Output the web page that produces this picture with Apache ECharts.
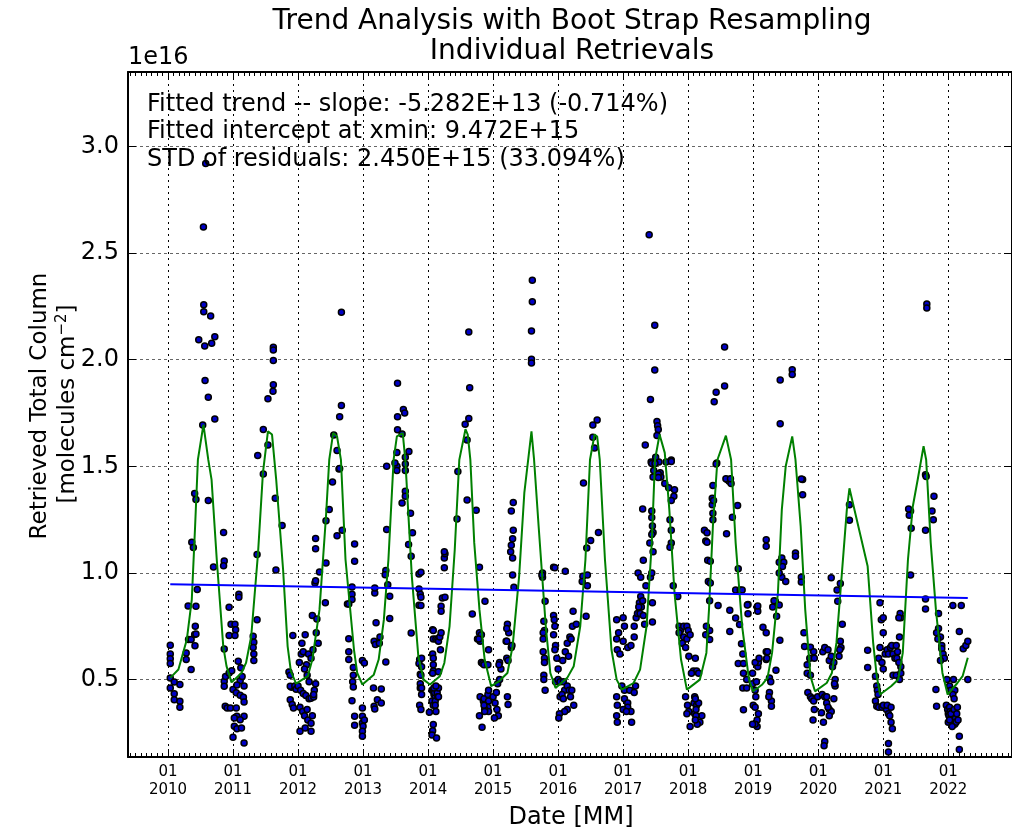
<!DOCTYPE html>
<html>
<head>
<meta charset="utf-8">
<title>Trend Analysis with Boot Strap Resampling</title>
<script src="https://cdn.jsdelivr.net/npm/echarts@6/dist/echarts.min.js"></script>
<style>
  html, body { margin: 0; padding: 0; background: #fff; }
  #chart { width: 1012px; height: 832px; }
</style>
</head>
<body>
<div id="chart"></div>
<script>
// Individual retrievals: [decimal year, total column in units of 1e16 molecules cm^-2]
const retr2010 = [[2010.035,0.661],[2010.035,0.62],[2010.035,0.598],[2010.035,0.576],[2010.035,0.508],[2010.035,0.461],
  [2010.096,0.489],[2010.096,0.433],[2010.096,0.405],[2010.183,0.477],[2010.183,0.398],[2010.183,0.37],
  [2010.28,0.625],[2010.28,0.594],[2010.356,0.547],[2010.316,0.688],[2010.356,0.688],
  [2010.41,0.711],[2010.43,0.714],[2010.415,0.659],[2010.42,0.75],[2010.31,0.845],[2010.43,0.844],[2010.45,0.922],
  [2010.366,1.144],[2010.39,1.119],[2010.41,1.373],[2010.43,1.345],[2010.62,1.34],[2010.855,1.19],[2010.70,1.028],
  [2010.865,1.056],[2010.855,1.034],[2010.94,0.839],[2010.865,0.644],[2010.97,0.759],[2010.94,0.707],[2010.865,0.492],
  [2010.865,0.469],[2010.885,0.515],[2010.94,0.531],[2010.98,0.542],[2010.88,0.375],[2010.91,0.367],[2010.96,0.367],
  [2010.545,2.622],[2010.55,2.258],[2010.55,2.225],[2010.656,2.205],[2010.473,2.093],[2010.565,2.064],[2010.672,2.077],
  [2010.72,2.108],[2010.57,1.902],[2010.62,1.824],[2010.72,1.722],[2010.534,1.694],[2010.58,2.92]];
const retr2011 = [[2011.03,0.759],[2011.04,0.734],[2011.03,0.707],[2011.09,0.90],[2011.09,0.886],
  [2011.0,0.453],[2011.05,0.438],[2011.11,0.426],[2011.16,0.417],[2011.17,0.395],
  [2011.05,0.367],[2011.06,0.328],[2011.17,0.328],[2011.11,0.312],[2011.02,0.32],
  [2011.02,0.281],[2011.06,0.269],[2011.13,0.273],[2011.0,0.23],[2011.17,0.203],
  [2011.12,0.555],[2011.08,0.586],[2011.11,0.495],[2011.14,0.515],[2011.06,0.475],[2011.17,0.47],
  [2011.31,0.703],[2011.32,0.675],[2011.32,0.62],[2011.32,0.589],[2011.31,0.651],[2011.37,0.78],[2011.37,1.086],
  [2011.66,1.014],[2011.65,1.35],[2011.755,1.222],
  [2011.62,2.058],[2011.62,2.046],[2011.62,1.996],[2011.62,1.883],[2011.615,1.852],[2011.537,1.817],[2011.466,1.673],
  [2011.537,1.60],[2011.38,1.551],[2011.466,1.464],
  [2011.86,0.536],[2011.88,0.52],[2011.9,0.464],[2011.88,0.469],[2011.92,0.707],[2011.88,0.406],[2011.91,0.383],
  [2011.93,0.367],[2011.95,0.47],[2011.97,0.455]];
const retr2012 = [[2012.0,0.47],[2012.04,0.45],[2012.08,0.435],[2012.12,0.425],[2012.17,0.41],[2012.2,0.412],[2012.24,0.418],
  [2012.03,0.37],[2012.07,0.35],[2012.1,0.33],[2012.15,0.31],[2012.2,0.295],[2012.22,0.33],[2012.14,0.36],
  [2012.03,0.258],[2012.11,0.273],[2012.2,0.258],
  [2012.02,0.58],[2012.05,0.62],[2012.08,0.63],[2012.06,0.67],[2012.11,0.71],[2012.13,0.57],[2012.16,0.62],[2012.2,0.6],
  [2012.1,0.55],[2012.14,0.52],[2012.17,0.49],[2012.27,0.48],[2012.25,0.45],[2012.24,0.43],
  [2012.23,0.64],[2012.31,0.67],[2012.28,0.72],[2012.22,0.8],
  [2012.27,1.114],[2012.27,1.162],[2012.29,0.784],[2012.26,0.953],[2012.27,0.963],[2012.42,0.86],[2012.33,1.005],
  [2012.43,1.047],[2012.43,1.245],[2012.48,1.297],[2012.53,1.427],[2012.6,1.175],[2012.68,1.20],[2012.63,1.487],
  [2012.87,1.136],[2012.87,1.055],[2012.83,0.934],[2012.83,0.90],[2012.83,0.875],[2012.76,0.855],[2012.78,0.855],
  [2012.78,0.692],[2012.78,0.63],[2012.78,0.594],[2012.85,0.557],[2012.85,0.52],[2012.84,0.49],[2012.85,0.465],
  [2012.83,0.401],[2012.87,0.328],[2012.87,0.286],
  [2012.667,2.222],[2012.667,1.785],[2012.64,1.733],[2012.55,1.647],[2012.6,1.574],[2012.64,1.49]];
const retr2013 = [[2012.99,0.589],[2013.02,0.578],[2012.99,0.367],[2012.99,0.328],[2012.99,0.297],[2013.0,0.281],
  [2012.99,0.258],[2012.99,0.234],[2013.02,0.31],
  [2013.16,0.461],[2013.17,0.375],[2013.18,0.362],[2013.22,0.406],[2013.28,0.39],[2013.28,0.456],
  [2013.17,0.68],[2013.19,0.665],[2013.25,0.67],[2013.26,0.70],[2013.2,0.766],[2013.18,0.906],[2013.18,0.93],
  [2013.35,0.583],[2013.35,1.011],[2013.34,0.992],[2013.41,0.891],[2013.41,0.787],[2013.363,1.204],[2013.38,0.945],
  [2013.6,1.328],[2013.65,1.383],[2013.65,1.36],[2013.73,1.28],[2013.7,1.133],[2013.74,1.078],[2013.74,0.719],
  [2013.76,1.188],[2013.52,1.50],[2013.49,1.515],
  [2013.86,0.995],[2013.86,0.925],[2013.88,0.90],[2013.86,0.848],
  [2013.87,0.594],[2013.86,0.575],[2013.88,0.525],[2013.88,0.48],[2013.88,0.46],[2013.87,0.38],
  [2013.53,1.889],[2013.62,1.766],[2013.64,1.75],[2013.53,1.733],[2013.53,1.672],[2013.6,1.652],[2013.705,1.569],
  [2013.52,1.565],[2013.65,1.542],[2013.65,1.511],[2013.363,1.5],[2013.65,1.48],[2013.52,1.48]];
const retr2014 = [[2013.89,1.003],[2013.89,0.886],[2013.89,0.847],[2013.9,0.6],[2013.9,0.56],[2013.89,0.52],
  [2013.9,0.46],[2013.9,0.43],[2013.89,0.36],
  [2014.07,0.734],[2014.08,0.73],[2014.08,0.69],[2014.07,0.62],[2014.08,0.6],[2014.08,0.57],[2014.08,0.54],[2014.07,0.53],
  [2014.06,0.45],[2014.08,0.45],[2014.06,0.4],[2014.09,0.43],[2014.08,0.38],[2014.11,0.42],[2014.11,0.4],[2014.11,0.38],
  [2014.12,0.35],[2014.1,0.44],[2014.13,0.46],[2014.14,0.44],[2014.15,0.42],[2014.16,0.46],[2014.16,0.42],[2014.09,0.46],
  [2014.12,0.47],[2014.08,0.289],[2014.07,0.26],[2014.06,0.24],[2014.13,0.226],[2014.02,0.347],
  [2014.12,0.69],[2014.15,0.69],[2014.16,0.68],[2014.18,0.70],[2014.2,0.72],[2014.19,0.64],[2014.16,0.537],
  [2014.2,0.844],[2014.2,0.82],[2014.22,0.883],[2014.26,0.886],[2014.25,1.024],[2014.25,1.07],[2014.26,1.09],[2014.25,1.10],
  [2014.445,1.253],[2014.458,1.476],[2014.6,1.342],[2014.68,0.808],[2014.74,1.294],[2014.79,1.027],[2014.875,0.867],
  [2014.79,0.72],[2014.8,0.68],[2014.76,0.69],[2014.82,0.71],[2014.78,0.69],
  [2014.82,0.58],[2014.84,0.575],[2014.86,0.57],[2014.93,0.64],[2014.92,0.57],
  [2014.626,2.13],[2014.64,1.869],[2014.626,1.724],[2014.57,1.697],[2014.6,1.624],
  [2014.8,0.42],[2014.85,0.40],[2014.86,0.41],[2014.92,0.43],[2014.93,0.45],[2014.93,0.40],[2014.92,0.37],[2014.93,0.35],
  [2014.87,0.36],[2014.86,0.38],[2014.87,0.35],[2014.79,0.33],[2014.83,0.276]];
const retr2015 = [[2015.0,0.42],[2015.03,0.39],[2015.05,0.44],[2015.06,0.36],[2015.08,0.33],[2015.02,0.32],[2015.07,0.48],
  [2015.1,0.5],[2015.12,0.55],[2015.1,0.58],[2015.09,0.57],
  [2015.2,0.68],[2015.21,0.68],[2015.24,0.72],[2015.22,0.76],[2015.21,0.74],[2015.21,0.6],[2015.23,0.59],[2015.22,0.42],
  [2015.23,0.383],[2015.28,0.65],[2015.29,0.66],
  [2015.27,1.1],[2015.28,1.13],[2015.3,1.16],[2015.3,1.07],[2015.3,0.99],[2015.31,1.2],[2015.31,1.33],[2015.28,1.29],[2015.32,0.933],
  [2015.76,1.0],[2015.76,0.98],[2015.75,0.99],[2015.8,0.867],[2015.78,0.773],[2015.79,0.73],
  [2015.77,0.72],[2015.77,0.69],[2015.77,0.63],[2015.78,0.52],[2015.78,0.5],[2015.79,0.6],[2015.8,0.45],[2015.79,0.58],
  [2015.93,1.027],[2015.95,1.024],[2015.93,0.8],[2015.94,0.78],[2015.95,0.75],[2015.93,0.71],
  [2015.603,2.372],[2015.603,2.272],[2015.59,2.135],[2015.59,2.002],[2015.59,1.985]];
const retr2016 = [[2016.11,1.008],[2015.96,0.66],[2015.95,0.64],[2015.98,0.6],[2016.0,0.55],[2016.07,0.59],[2016.11,0.63],
  [2016.16,0.61],[2016.18,0.70],[2016.14,0.67],[2016.2,0.69],[2016.22,0.75],[2016.23,0.82],[2016.28,0.76],
  [2015.96,0.49],[2016.0,0.5],[2016.03,0.49],[2016.08,0.49],[2016.1,0.45],[2016.14,0.47],[2016.17,0.45],[2016.19,0.42],
  [2016.21,0.45],[2016.24,0.38],[2016.14,0.36],[2016.1,0.35],[2016.02,0.34],[2016.01,0.32],[2016.03,0.42],[2016.06,0.43],
  [2016.08,0.41],
  [2016.39,1.422],[2016.44,1.117],[2016.5,1.152],[2016.62,1.19],[2016.38,0.985],[2016.45,0.99],[2016.37,0.96],[2016.45,0.94],
  [2016.43,0.797],[2016.6,1.717],[2016.534,1.694],[2016.534,1.636],[2016.56,1.586]];
const retr2017 = [[2016.9,0.78],[2016.93,0.72],[2016.9,0.69],[2016.91,0.64],[2016.95,0.62],[2017.0,0.79],[2017.02,0.75],
  [2017.0,0.68],[2017.07,0.65],[2017.12,0.66],[2017.17,0.7],[2017.17,0.75],[2017.2,0.79],[2017.22,0.81],[2017.25,0.86],
  [2017.27,0.89],[2017.28,0.84],
  [2016.9,0.42],[2016.91,0.38],[2016.9,0.33],[2016.91,0.3],[2016.98,0.47],[2017.02,0.45],[2017.02,0.41],[2017.07,0.39],
  [2017.07,0.37],[2017.12,0.35],[2017.13,0.3],[2017.1,0.45],[2017.17,0.44],[2017.19,0.47],[2017.0,0.36],[2017.05,0.35],
  [2017.23,1.0],[2017.27,0.98],[2017.31,1.06],[2017.35,0.94],[2017.42,0.98],[2017.44,1.0],
  [2017.24,0.84],[2017.3,0.87],[2017.26,0.81],[2017.31,0.80],[2017.33,0.76],[2017.45,0.86],[2017.45,0.77],
  [2017.3,1.3],[2017.44,1.29],[2017.44,1.26],[2017.45,1.22],[2017.46,1.19],[2017.44,1.18],[2017.41,1.14],[2017.46,1.1],
  [2017.46,1.45],[2017.47,1.48],[2017.49,1.52],[2017.43,1.52],
  [2017.57,1.47],[2017.58,1.45],[2017.64,1.42],[2017.7,1.40],[2017.79,1.39],[2017.78,1.36],[2017.74,1.34],[2017.72,1.25],
  [2017.74,1.2],[2017.74,1.14],[2017.72,1.12],[2017.77,0.94],[2017.84,0.89],[2017.74,1.53],[2017.66,1.52],[2017.55,1.52],
  [2017.4,2.586],[2017.486,2.161],[2017.486,1.952],[2017.42,1.813],[2017.52,1.71],[2017.53,1.69],[2017.54,1.673],
  [2017.52,1.645],[2017.34,1.60],[2017.74,1.523],[2017.5,1.542],[2017.44,1.513],[2017.49,1.513],[2017.54,1.464],[2017.54,1.448]];
const retr2018 = [[2017.86,0.75],[2017.88,0.73],[2017.93,0.75],[2017.98,0.75],[2018.0,0.73],[2017.93,0.70],[2017.98,0.69],
  [2018.03,0.71],[2017.86,0.72],[2017.91,0.67],[2017.96,0.65],[2018.01,0.61],[2018.11,0.6],[2018.08,0.54],[2018.13,0.54],
  [2018.05,0.53],[2018.16,0.53],
  [2017.96,0.42],[2017.99,0.38],[2018.01,0.35],[2018.09,0.39],[2018.13,0.38],[2018.16,0.39],[2018.1,0.34],[2018.21,0.33],
  [2018.18,0.30],[2018.14,0.29],[2018.03,0.28],[2017.98,0.34],
  [2018.25,1.2],[2018.27,1.15],[2018.3,1.06],[2018.31,0.96],[2018.37,1.35],[2018.37,1.32],[2018.38,1.41],[2018.33,0.87],
  [2018.28,0.75],[2018.27,0.71],
  [2018.44,1.515],[2018.6,1.438],[2018.63,1.43],[2018.66,1.42],[2018.39,1.34],[2018.38,1.28],[2018.38,1.25],[2018.29,1.188],
  [2018.29,1.144],[2018.34,1.055],[2018.34,0.953],[2018.46,0.847],[2018.33,0.73],[2018.33,0.688],
  [2018.1,0.42],[2018.11,0.41],[2018.12,0.36],[2018.12,0.33],[2018.11,0.31],
  [2018.59,1.184],[2018.68,1.261],[2018.76,1.316],[2018.77,1.02],[2018.64,0.825],[2018.73,0.789],[2018.64,0.725],
  [2018.73,0.92],[2018.8,0.92],[2018.83,0.92],[2018.79,0.758],[2018.92,0.852],[2018.92,0.809],[2018.82,0.668],[2018.84,0.62],
  [2018.77,0.575],[2018.85,0.575],[2018.85,0.53],[2018.84,0.46],[2018.9,0.5],[2018.9,0.46],[2018.85,0.359],
  [2018.40,1.803],[2018.43,1.847],[2018.43,1.511],[2018.56,2.059],[2018.56,1.877],[2018.58,1.442],[2018.65,1.442]];
const retr2019 = [[2018.99,0.53],[2018.99,0.48],[2019.03,0.45],[2019.04,0.42],[2019.0,0.38],[2019.03,0.37],[2019.08,0.34],
  [2019.06,0.31],[2019.06,0.28],[2019.03,0.29],[2018.99,0.29],[2019.07,0.56],[2019.08,0.58],[2019.03,0.58],[2019.09,0.6],
  [2019.05,0.49],[2019.06,0.84],[2019.07,0.82],[2019.07,0.845],[2018.91,0.85],
  [2019.15,0.745],[2019.2,0.72],[2019.2,0.63],[2019.2,0.594],[2019.22,0.63],[2019.21,0.60],
  [2019.25,0.508],[2019.27,0.49],[2019.25,0.44],[2019.28,0.40],[2019.28,0.375],[2019.24,0.42],
  [2019.2,1.156],[2019.2,1.125],
  [2019.3,0.84],[2019.34,0.867],[2019.4,0.85],[2019.36,0.797],[2019.32,0.87],[2019.35,0.544],[2019.41,0.684],
  [2019.4,1.05],[2019.44,1.07],[2019.47,1.05],[2019.45,1.03],[2019.44,0.98],[2019.5,0.96],[2019.4,1.0],
  [2019.65,1.094],[2019.65,1.078],[2019.76,1.438],[2019.76,1.367],[2019.74,0.98],[2019.74,0.957],
  [2019.78,0.72],[2019.79,0.655],[2019.88,0.652],[2019.93,0.63],[2019.87,0.6],[2019.94,0.6],[2019.83,0.57],[2019.83,0.53],
  [2019.88,0.52],[2019.84,0.44],[2019.88,0.42],[2019.9,0.41],[2019.93,0.40],[2019.94,0.36],[2019.92,0.31],[2019.99,0.42],
  [2019.6,1.953],[2019.6,1.931],[2019.415,1.905],[2019.415,1.70],[2019.74,1.44]];
const retr2020 = [[2020.06,0.43],[2020.1,0.42],[2020.05,0.345],[2020.08,0.30],[2020.1,0.21],[2020.09,0.19],
  [2020.07,0.63],[2020.1,0.65],[2020.15,0.64],[2020.17,0.59],[2020.2,0.61],[2020.22,0.56],[2020.24,0.58],[2020.26,0.5],
  [2020.26,0.47],[2020.24,0.41],[2020.17,0.36],[2020.2,0.35],[2020.17,0.33],[2020.13,0.39],[2020.13,0.42],[2020.15,0.37],
  [2020.25,0.48],
  [2020.2,0.977],[2020.29,0.92],[2020.3,0.867],[2020.34,0.95],[2020.37,0.76],[2020.34,0.68],[2020.35,0.65],[2020.33,0.64],
  [2020.32,0.61],[2020.48,1.32],[2020.48,1.247],[2020.76,0.637],[2020.76,0.557],
  [2020.88,0.516],[2020.9,0.47],[2020.91,0.45],[2020.92,0.43],[2020.88,0.4],[2020.9,0.375],[2020.93,0.37]];
const retr2021 = [[2020.95,0.86],[2020.97,0.78],[2021.0,0.79],[2021.0,0.72],[2020.95,0.65],[2020.93,0.6],[2020.98,0.58],
  [2021.0,0.55],[2021.03,0.62],[2021.06,0.64],[2021.08,0.62],[2021.11,0.65],[2021.13,0.66],[2021.15,0.62],[2021.18,0.6],
  [2021.2,0.66],[2021.22,0.63],[2021.25,0.7],[2021.27,0.79],[2021.26,0.81],[2021.24,0.79],
  [2020.98,0.37],[2021.05,0.36],[2021.08,0.34],[2021.1,0.33],[2021.12,0.3],[2021.14,0.27],[2021.08,0.20],[2021.0,0.38],
  [2021.06,0.38],[2021.12,0.37],[2021.08,0.16],
  [2021.15,0.52],[2021.2,0.52],[2021.25,0.50],[2021.27,0.53],[2021.27,0.56],[2021.21,0.6],[2021.24,0.58],
  [2021.42,1.29],[2021.4,1.27],[2021.39,1.30],[2021.43,1.21],[2021.42,0.99],
  [2021.65,1.2],[2021.65,0.878],[2021.65,0.831],[2021.75,1.29],[2021.77,1.25],[2021.78,1.36],
  [2021.85,0.81],[2021.85,0.74],[2021.82,0.72],[2021.88,0.7],[2021.9,0.66],[2021.9,0.645],[2021.92,0.62],[2021.94,0.6],
  [2021.88,0.59],[2021.84,0.69],[2021.81,0.453],[2021.82,0.375],
  [2021.67,2.261],[2021.67,2.242],[2021.65,1.461],[2021.66,1.452]];
const retr2022 = [[2021.98,0.5],[2022.02,0.47],[2022.04,0.45],[2022.08,0.5],[2022.1,0.45],[2022.07,0.43],[2022.09,0.41],
  [2021.97,0.38],[2021.99,0.36],[2022.0,0.34],[2022.01,0.33],[2022.02,0.37],[2022.03,0.35],[2022.04,0.32],[2022.05,0.3],
  [2022.06,0.33],[2022.07,0.35],[2022.08,0.31],[2022.1,0.29],[2022.11,0.32],[2022.12,0.3],[2022.0,0.3],[2022.02,0.31],
  [2022.04,0.34],[2022.06,0.28],[2022.09,0.36],[2022.13,0.34],[2022.15,0.31],[2022.14,0.37],
  [2022.17,0.234],[2022.17,0.172],[2022.07,0.847],[2022.2,0.847],[2022.17,0.725],
  [2022.23,0.645],[2022.27,0.66],[2022.3,0.68],[2022.3,0.5]];

// Fitted seasonal model evaluated at the retrieval times
const fitCurve = [[2010.035,0.508],[2010.16,0.547],[2010.29,0.688],[2010.366,0.875],[2010.417,1.219],[2010.46,1.531],
  [2010.545,1.695],[2010.62,1.53],[2010.67,1.438],[2010.75,1.063],[2010.85,0.656],[2010.9,0.563],[2010.977,0.487],
  [2011.13,0.531],[2011.2,0.578],[2011.28,0.703],[2011.385,1.094],[2011.46,1.469],[2011.537,1.664],[2011.6,1.649],
  [2011.664,1.438],[2011.77,1.016],[2011.84,0.656],[2011.89,0.539],[2011.97,0.481],
  [2012.15,0.516],[2012.22,0.594],[2012.33,0.828],[2012.43,1.266],[2012.48,1.531],[2012.54,1.656],[2012.6,1.64],
  [2012.66,1.53],[2012.73,1.063],[2012.86,0.641],[2012.91,0.531],[2012.99,0.477],
  [2013.165,0.523],[2013.24,0.594],[2013.32,0.781],[2013.39,1.063],[2013.47,1.531],[2013.52,1.64],[2013.61,1.656],
  [2013.65,1.53],[2013.75,0.984],[2013.85,0.609],[2013.93,0.5],
  [2014.03,0.477],[2014.18,0.516],[2014.25,0.578],[2014.33,0.75],[2014.41,1.109],[2014.48,1.53],[2014.575,1.674],
  [2014.61,1.649],[2014.65,1.531],[2014.71,1.141],[2014.79,0.828],[2014.87,0.594],[2014.97,0.469],
  [2015.09,0.492],[2015.22,0.531],[2015.3,0.656],[2015.4,0.984],[2015.48,1.375],[2015.59,1.664],[2015.63,1.531],
  [2015.7,1.219],[2015.81,0.75],[2015.88,0.531],[2015.96,0.461],
  [2016.14,0.508],[2016.24,0.563],[2016.34,0.75],[2016.42,1.063],[2016.49,1.531],[2016.56,1.649],[2016.6,1.64],
  [2016.64,1.531],[2016.72,1.063],[2016.82,0.641],[2016.9,0.5],[2016.98,0.453],
  [2017.16,0.484],[2017.26,0.547],[2017.36,0.75],[2017.44,1.141],[2017.49,1.531],[2017.56,1.649],[2017.64,1.563],
  [2017.71,1.297],[2017.79,0.906],[2017.89,0.594],[2017.98,0.453],
  [2018.18,0.5],[2018.28,0.625],[2018.32,0.828],[2018.38,1.219],[2018.45,1.531],[2018.58,1.644],[2018.66,1.531],
  [2018.73,1.141],[2018.83,0.75],[2018.935,0.5],[2019.0,0.445],
  [2019.14,0.477],[2019.22,0.508],[2019.29,0.625],[2019.38,0.906],[2019.44,1.297],[2019.5,1.5],[2019.6,1.64],
  [2019.65,1.531],[2019.73,1.219],[2019.8,0.828],[2019.88,0.516],[2019.95,0.445],
  [2020.13,0.484],[2020.21,0.531],[2020.28,0.672],[2020.36,0.984],[2020.44,1.297],[2020.48,1.397],[2020.76,1.031],
  [2020.845,0.672],[2020.9,0.516],[2020.95,0.43],
  [2021.12,0.469],[2021.23,0.5],[2021.3,0.625],[2021.38,1.063],[2021.455,1.313],[2021.53,1.438],[2021.62,1.594],
  [2021.66,1.531],[2021.73,1.141],[2021.81,0.828],[2021.91,0.531],[2021.99,0.43],
  [2022.14,0.484],[2022.22,0.516],[2022.3,0.602]];

// Linear trend: intercept at the first retrieval and slope per year (1e16 units)
const trendStart = 2010.035;
const trendEnd = 2022.3;
const trendIntercept = 0.9472;
const trendSlope = -0.005282;

// Axis ticks
const yearTicks = [2010, 2011, 2012, 2013, 2014, 2015, 2016, 2017, 2018, 2019, 2020, 2021, 2022];
const valueTicks = [0.5, 1.0, 1.5, 2.0, 2.5, 3.0];
const xMin = 2009.385, xMax = 2022.98;
const yMin = 0.137, yMax = 3.349;

const retrievals = [].concat(retr2010, retr2011, retr2012, retr2013, retr2014, retr2015, retr2016,
  retr2017, retr2018, retr2019, retr2020, retr2021, retr2022);
const trendLine = [[trendStart, trendIntercept],
  [trendEnd, trendIntercept + trendSlope * (trendEnd - trendStart)]];

// monthly minor ticks
const monthTicks = [];
for (let y = 2009; y <= 2022; y++) {
  for (let m = 0; m < 12; m++) {
    const v = y + m / 12;
    if (v >= xMin && v <= xMax) monthTicks.push(v);
  }
}

const FONT = 'DejaVu Sans';
const chart = echarts.init(document.getElementById('chart'), null, { renderer: 'canvas' });

function xAxisCommon(extra) {
  return Object.assign({
    type: 'value', min: xMin, max: xMax, gridIndex: 0,
    axisLine: { show: false }, splitLine: { show: false },
    axisLabel: { show: false }, axisPointer: { show: false }
  }, extra);
}

chart.setOption({
  animation: false,
  backgroundColor: '#ffffff',
  grid: { left: 128, top: 72, right: -6, bottom: 75, containLabel: false },
  xAxis: [
    xAxisCommon({
      position: 'bottom',
      axisLine: { show: true, onZero: false, lineStyle: { color: '#000', width: 2 } },
      axisTick: { show: true, inside: true, length: 8, customValues: yearTicks, lineStyle: { color: '#000', width: 1 } },
      axisLabel: {
        show: true, customValues: yearTicks, margin: 6, color: '#000',
        fontFamily: FONT, fontSize: 15, lineHeight: 18,
        formatter: v => '01\n' + Math.round(v)
      },
      splitLine: { show: true, lineStyle: { color: '#000', width: 1, type: [2, 4] } }
    }),
    xAxisCommon({
      position: 'bottom',
      axisTick: { show: true, inside: true, length: 4, customValues: monthTicks, lineStyle: { color: '#000', width: 1 } }
    }),
    xAxisCommon({
      position: 'top',
      axisLine: { show: true, onZero: false, lineStyle: { color: '#000', width: 2 } },
      axisTick: { show: true, inside: true, length: 8, customValues: yearTicks, lineStyle: { color: '#000', width: 1 } }
    }),
    xAxisCommon({
      position: 'top',
      axisTick: { show: true, inside: true, length: 4, customValues: monthTicks, lineStyle: { color: '#000', width: 1 } }
    })
  ],
  yAxis: [
    {
      type: 'value', min: yMin, max: yMax, position: 'left',
      axisLine: { show: true, onZero: false, lineStyle: { color: '#000', width: 2 } },
      axisTick: { show: true, inside: true, length: 8, customValues: valueTicks, lineStyle: { color: '#000', width: 1 } },
      axisLabel: {
        show: true, customValues: valueTicks, margin: 9, color: '#000',
        fontFamily: FONT, fontSize: 24, formatter: v => v.toFixed(1)
      },
      splitLine: { show: true, lineStyle: { color: '#666', width: 1, type: [3, 3] } },
      axisPointer: { show: false }
    },
    {
      type: 'value', min: yMin, max: yMax, position: 'right',
      axisLine: { show: true, onZero: false, lineStyle: { color: '#000', width: 2 } },
      axisTick: { show: true, inside: true, length: 8, customValues: valueTicks },
      axisLabel: { show: false }, splitLine: { show: false }
    }
  ],
  series: [
    {
      name: 'Retrievals', type: 'scatter', data: retrievals, xAxisIndex: 0, yAxisIndex: 0,
      symbol: 'circle', symbolSize: 6, z: 2,
      itemStyle: { color: '#0000c8', borderColor: '#000', borderWidth: 1.5, opacity: 1 },
      emphasis: { disabled: true }
    },
    {
      name: 'Fit', type: 'line', data: fitCurve, xAxisIndex: 0, yAxisIndex: 0,
      showSymbol: false, smooth: false, z: 3,
      lineStyle: { color: '#008000', width: 2 }, emphasis: { disabled: true }
    },
    {
      name: 'Trend', type: 'line', data: trendLine, xAxisIndex: 0, yAxisIndex: 0,
      showSymbol: false, z: 4,
      lineStyle: { color: '#0000ff', width: 2 }, emphasis: { disabled: true }
    }
  ],
  graphic: [
    { type: 'text', x: 572, y: 22, style: { text: 'Trend Analysis with Boot Strap Resampling', fontFamily: FONT, fontSize: 28, fill: '#000', textAlign: 'center', textVerticalAlign: 'middle' } },
    { type: 'text', x: 572, y: 52, style: { text: 'Individual Retrievals', fontFamily: FONT, fontSize: 28, fill: '#000', textAlign: 'center', textVerticalAlign: 'middle' } },
    { type: 'text', x: 128, y: 58, style: { text: '1e16', fontFamily: FONT, fontSize: 24, fill: '#000', textAlign: 'left', textVerticalAlign: 'middle' } },
    { type: 'text', x: 147, y: 105, z: 10, style: { text: 'Fitted trend -- slope: -5.282E+13 (-0.714%)', fontFamily: FONT, fontSize: 24, fill: '#000', textAlign: 'left', textVerticalAlign: 'middle' } },
    { type: 'text', x: 147, y: 132, z: 10, style: { text: 'Fitted intercept at xmin: 9.472E+15', fontFamily: FONT, fontSize: 24, fill: '#000', textAlign: 'left', textVerticalAlign: 'middle' } },
    { type: 'text', x: 147, y: 160, z: 10, style: { text: 'STD of residuals: 2.450E+15 (33.094%)', fontFamily: FONT, fontSize: 24, fill: '#000', textAlign: 'left', textVerticalAlign: 'middle' } },
    { type: 'text', x: 40, y: 406, rotation: Math.PI / 2, style: { text: 'Retrieved Total Column', fontFamily: FONT, fontSize: 23, fill: '#000', textAlign: 'center', textVerticalAlign: 'middle' } },
    { type: 'text', x: 68, y: 404, rotation: Math.PI / 2, style: {
        text: '[molecules cm{sup|−2}]', fontFamily: FONT, fontSize: 23, fill: '#000', textAlign: 'center', textVerticalAlign: 'middle',
        rich: { sup: { fontFamily: FONT, fontSize: 15, fill: '#000', padding: [0, 0, 12, 0] } } } },
    { type: 'text', x: 571, y: 818, style: { text: 'Date [MM]', fontFamily: FONT, fontSize: 24, fill: '#000', textAlign: 'center', textVerticalAlign: 'middle' } }
  ]
});
</script>
</body>
</html>
